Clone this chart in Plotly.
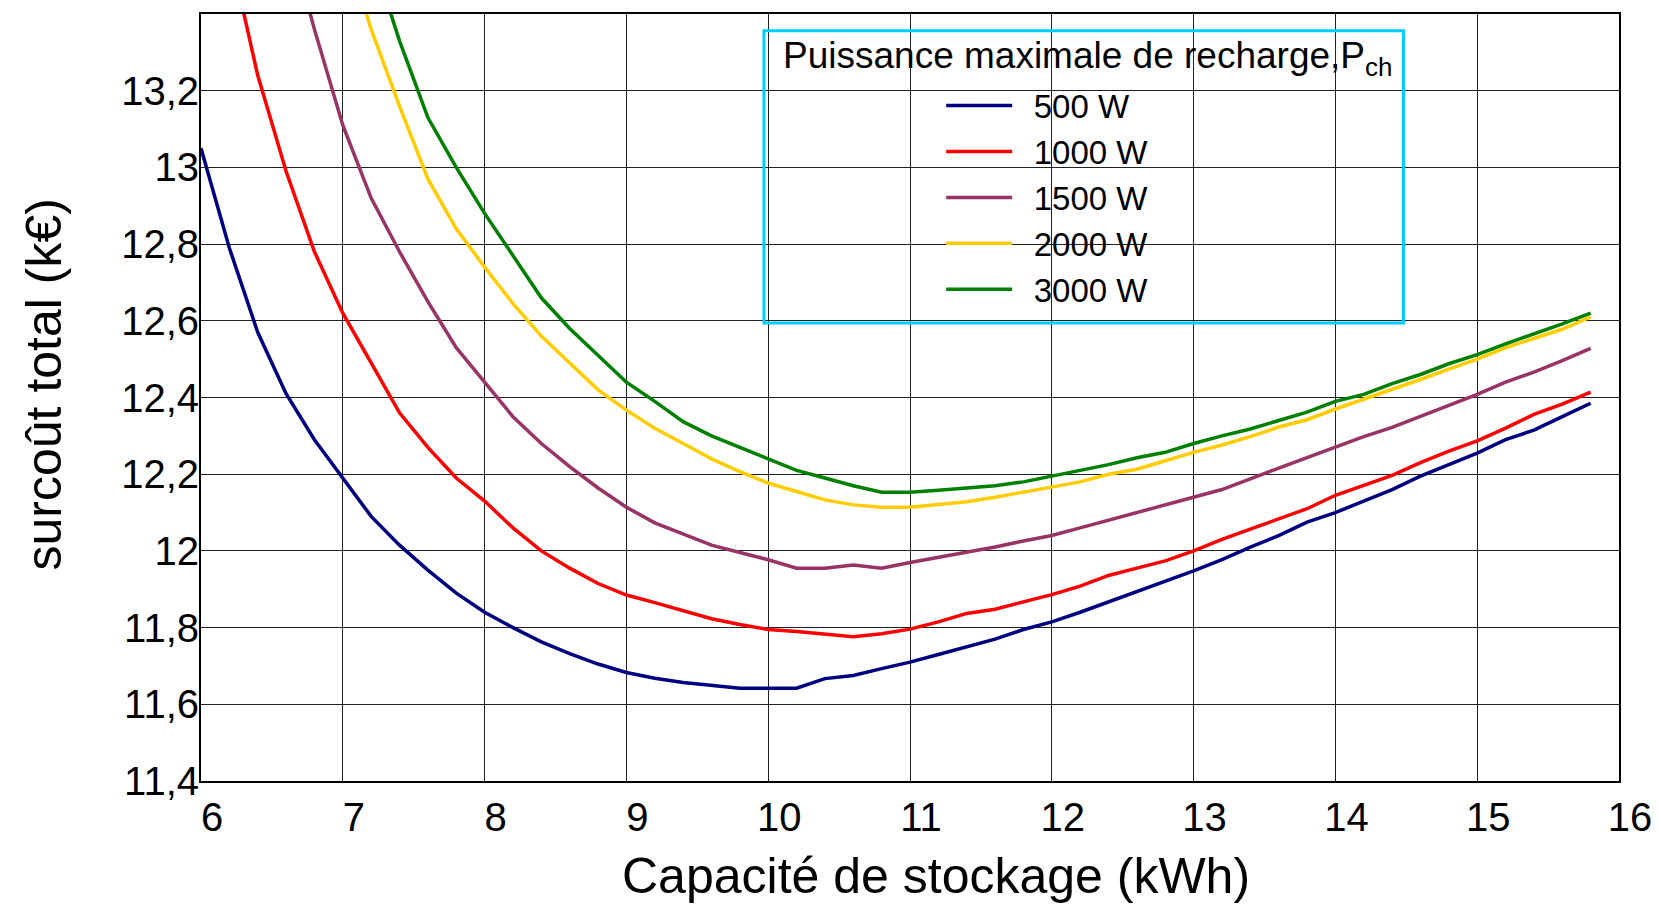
import plotly.graph_objects as go

# Capacité de stockage (kWh)
capacite = [6.0, 6.2, 6.4, 6.6, 6.8, 7.0, 7.2, 7.4, 7.6, 7.8,
            8.0, 8.2, 8.4, 8.6, 8.8, 9.0, 9.2, 9.4, 9.6, 9.8,
            10.0, 10.2, 10.4, 10.6, 10.8, 11.0, 11.2, 11.4, 11.6, 11.8,
            12.0, 12.2, 12.4, 12.6, 12.8, 13.0, 13.2, 13.4, 13.6, 13.8,
            14.0, 14.2, 14.4, 14.6, 14.8, 15.0, 15.2, 15.4, 15.6, 15.8]

# surcoût total (k€) for each maximum charging power
cout_500 = [13.05, 12.79, 12.57, 12.41, 12.29, 12.19, 12.09, 12.015, 11.95, 11.89,
            11.84, 11.80, 11.763, 11.732, 11.705, 11.683, 11.668, 11.657, 11.649, 11.642,
            11.642, 11.642, 11.667, 11.675, 11.693, 11.71, 11.73, 11.75, 11.77, 11.795,
            11.815, 11.84, 11.867, 11.895, 11.92, 11.948, 11.977, 12.01, 12.04, 12.075,
            12.10, 12.13, 12.16, 12.195, 12.225, 12.255, 12.29, 12.315, 12.35, 12.385]
cout_1000 = [13.92, 13.57, 13.24, 12.99, 12.78, 12.62, 12.49, 12.36, 12.27, 12.19,
             12.13, 12.06, 12.0, 11.955, 11.915, 11.885, 11.865, 11.845, 11.823, 11.808,
             11.795, 11.79, 11.784, 11.776, 11.784, 11.796, 11.815, 11.837, 11.848, 11.867,
             11.886, 11.908, 11.936, 11.955, 11.974, 12.0, 12.03, 12.057, 12.084, 12.11,
             12.145, 12.17, 12.197, 12.23, 12.26, 12.287, 12.32, 12.356, 12.383, 12.414]
cout_1500 = [None, None, None, 13.63, 13.36, 13.11, 12.92, 12.78, 12.65, 12.53,
             12.44, 12.35, 12.28, 12.22, 12.164, 12.114, 12.073, 12.043, 12.015, 11.996,
             11.977, 11.955, 11.955, 11.963, 11.955, 11.97, 11.983, 11.996, 12.01, 12.026,
             12.04, 12.06, 12.08, 12.1, 12.12, 12.142, 12.16, 12.188, 12.216, 12.243,
             12.27, 12.298, 12.322, 12.35, 12.378, 12.408, 12.44, 12.466, 12.496, 12.528]
cout_2000 = [None, None, None, None, None, 13.6, 13.36, 13.16, 12.97, 12.84,
             12.74, 12.645, 12.56, 12.49, 12.42, 12.367, 12.32, 12.28, 12.24, 12.207,
             12.177, 12.155, 12.133, 12.12, 12.114, 12.114, 12.12, 12.128, 12.14, 12.153,
             12.166, 12.18, 12.2, 12.213, 12.235, 12.257, 12.276, 12.298, 12.323, 12.342,
             12.37, 12.395, 12.42, 12.447, 12.474, 12.5, 12.53, 12.554, 12.578, 12.61]
cout_3000 = [None, None, None, None, None, None, 13.56, 13.33, 13.13, 13.0,
             12.88, 12.77, 12.66, 12.58, 12.51, 12.44, 12.39, 12.337, 12.3, 12.27,
             12.24, 12.21, 12.19, 12.17, 12.153, 12.153, 12.158, 12.164, 12.17, 12.18,
             12.194, 12.21, 12.225, 12.243, 12.257, 12.28, 12.3, 12.318, 12.34, 12.362,
             12.39, 12.408, 12.436, 12.46, 12.488, 12.512, 12.54, 12.565, 12.592, 12.62]

series_names = ["500 W", "1000 W", "1500 W", "2000 W", "3000 W"]
series_values = [cout_500, cout_1000, cout_1500, cout_2000, cout_3000]
series_colors = ["#000080", "#ff0000", "#993366", "#ffcc00", "#008000"]

x_ticks = [6, 7, 8, 9, 10, 11, 12, 13, 14, 15, 16]
y_ticks = [11.4, 11.6, 11.8, 12.0, 12.2, 12.4, 12.6, 12.8, 13.0, 13.2]
y_tick_labels = ["11,4", "11,6", "11,8", "12", "12,2", "12,4", "12,6", "12,8", "13", "13,2"]

FONT = "Liberation Sans, Arial, sans-serif"

fig = go.Figure()
for name, values, color in zip(series_names, series_values, series_colors):
    fig.add_trace(
        go.Scatter(
            x=capacite,
            y=values,
            mode="lines",
            name="\u2002" + name,
            line=dict(color=color, width=3.5),
        )
    )

axis_common = dict(
    showgrid=True,
    gridcolor="#222222",
    gridwidth=1,
    showline=True,
    linecolor="black",
    linewidth=2,
    mirror=True,
    ticks="inside",
    ticklen=8,
    tickcolor="#222222",
    zeroline=False,
    tickfont=dict(family=FONT, size=40, color="black"),
)

fig.update_xaxes(range=[6, 16], tickvals=x_ticks, ticklabelshift=11, **axis_common)
fig.update_yaxes(
    range=[11.4, 13.4],
    tickvals=y_ticks,
    ticktext=y_tick_labels,
    ticklabelstandoff=-8,
    **axis_common,
)

# axis titles
fig.add_annotation(
    text="Capacité de stockage (kWh)", xref="paper", yref="paper",
    x=0.518, y=-0.1235, xanchor="center", yanchor="middle", showarrow=False,
    font=dict(family=FONT, size=50, color="black"),
)
fig.add_annotation(
    text="surcoût total (k€)", xref="paper", yref="paper", textangle=-90,
    x=-0.1104, y=0.5176, xanchor="center", yanchor="middle", showarrow=False,
    font=dict(family=FONT, size=50, color="black"),
)

# legend frame and title
fig.add_shape(
    type="rect", xref="paper", yref="paper",
    x0=0.397, x1=0.848, y0=0.597, y1=0.978,
    line=dict(color="#00ccff", width=3), fillcolor="rgba(0,0,0,0)", layer="above",
)
fig.add_annotation(
    text="Puissance maximale de recharge,P<sub>ch</sub>",
    xref="paper", yref="paper", x=0.625, y=0.9425,
    xanchor="center", yanchor="middle",
    showarrow=False, font=dict(family=FONT, size=37, color="black"),
)

fig.update_layout(
    width=1651,
    height=896,
    paper_bgcolor="white",
    plot_bgcolor="white",
    margin=dict(l=193, r=40, t=4, b=123),
    font=dict(family=FONT, color="black"),
    legend=dict(
        x=0.522, y=0.917, xanchor="left", yanchor="top",
        bgcolor="rgba(0,0,0,0)",
        font=dict(family=FONT, size=33, color="black"),
        itemwidth=66,
    ),
)

fig.write_html("out.html")
